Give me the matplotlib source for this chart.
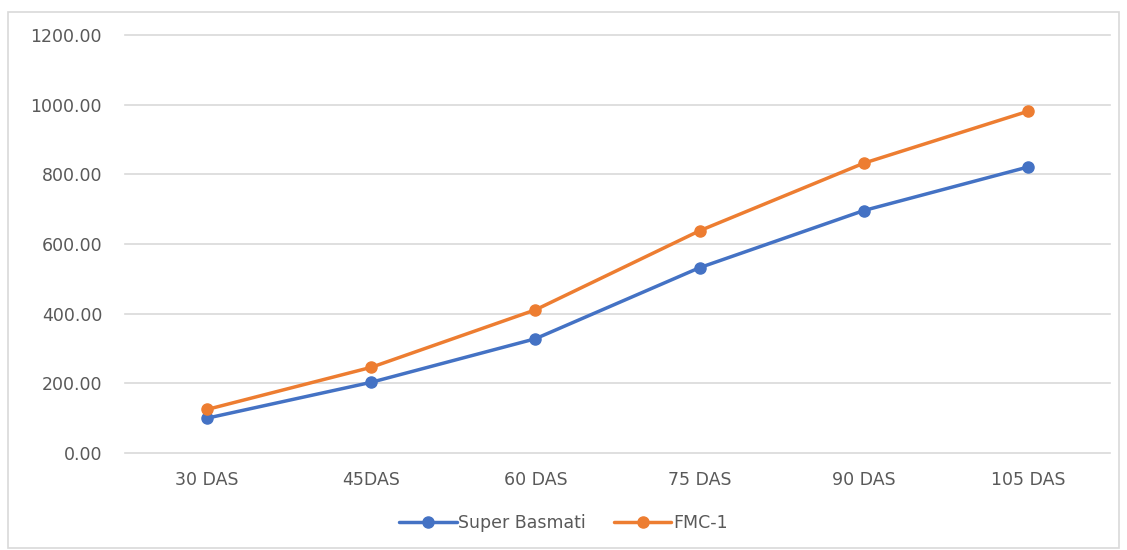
import matplotlib
matplotlib.use("Agg")
import matplotlib.pyplot as plt
from matplotlib.patches import Rectangle

# Growth stages and measured values for each variety
stages = ["30 DAS", "45DAS", "60 DAS", "75 DAS", "90 DAS", "105 DAS"]
super_basmati = [100, 203, 328, 532, 696, 821]
fmc_1 = [125, 246, 411, 638, 832, 981]
y_ticks = [0, 200, 400, 600, 800, 1000, 1200]

plt.rcParams['font.family'] = ['DejaVu Sans']

fig = plt.figure(figsize=(11.27, 5.5), dpi=100)
fig.patches.append(Rectangle((8 / 1127, 2 / 550), 1111 / 1127, 536 / 550,
                             transform=fig.transFigure, fill=False,
                             edgecolor="#d9d9d9", linewidth=1.2))

ax = fig.add_axes([125 / 1127, 1 - 453 / 550, 985 / 1127, 418 / 550])
x = list(range(len(stages)))
ax.plot(x, super_basmati, color="#4472C4", lw=2.5, marker="o", ms=8,
        label="Super Basmati", solid_capstyle="round")
ax.plot(x, fmc_1, color="#ED7D31", lw=2.5, marker="o", ms=8,
        label="FMC-1", solid_capstyle="round")

ax.set_xlim(-0.5, len(stages) - 0.5)
ax.set_ylim(0, 1200)
ax.set_yticks(y_ticks)
ax.set_yticklabels([f"{v:.2f}" for v in y_ticks])
ax.set_xticks(x)
ax.set_xticklabels(stages)
ax.grid(axis="y", color="#d9d9d9", lw=1.2)
for gl in ax.get_ygridlines():
    gl.set_clip_on(False)
ax.set_axisbelow(True)
for s in ax.spines.values():
    s.set_visible(False)
ax.tick_params(axis="both", length=0, labelsize=12.5, colors="#595959")
ax.tick_params(axis="y", pad=16.5)
ax.tick_params(axis="x", pad=13)

leg = fig.legend(loc="center", bbox_to_anchor=(0.5, 1 - 523 / 550), ncol=2,
                 frameon=False, fontsize=12.5, handlelength=3.3,
                 handletextpad=0.1, columnspacing=1.6)
for t in leg.get_texts():
    t.set_color("#595959")

fig.savefig("out.png", dpi=100)
